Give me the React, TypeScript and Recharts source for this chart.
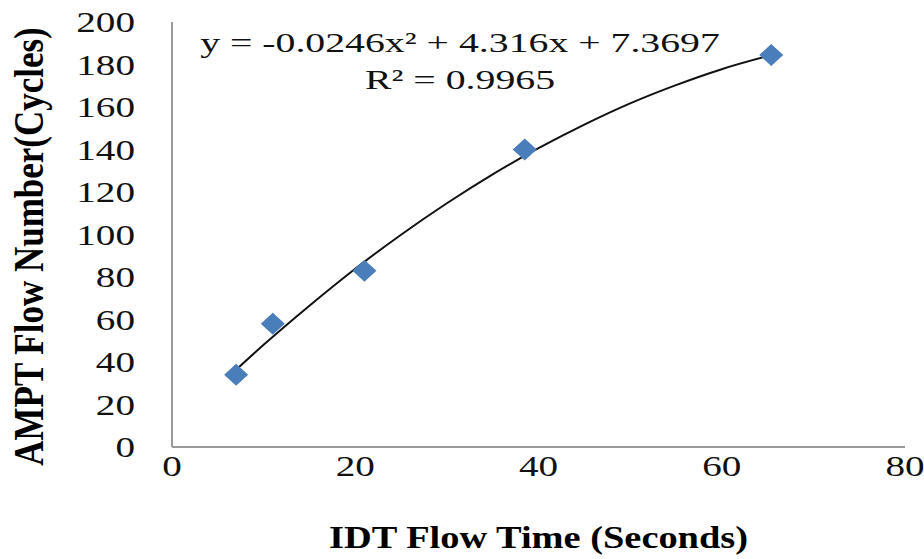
import { ComposedChart, Line, Scatter, XAxis, YAxis } from "recharts";

// measured points (IDT flow time in s vs AMPT flow number)
const flowTime = [7, 11, 21, 38.5, 65.4];
const flowNumber = [34, 58, 83, 140, 184.5];

// poly trendline, values
const trendTime = [7, 10, 15, 20, 25, 30, 35, 40, 45, 50, 55, 60, 65.4];
const trendNumber = [36.4, 48.1, 66.5, 83.9, 99.9, 114.7, 128.3, 140.6, 151.7, 161.7, 170.3, 177.8, 184.4];

const xTicks = [0, 20, 40, 60, 80];
const yTicks = [0, 20, 40, 60, 80, 100, 120, 140, 160, 180, 200];

const equation = "y = -0.0246x² + 4.316x + 7.3697";
const rSquared = "R² = 0.9965";
const xTitle = "IDT Flow Time (Seconds)";
const yTitle = "AMPT Flow Number(Cycles)";

const points = flowTime.map((x, i) => ({ x, y: flowNumber[i] }));
const trend = trendTime.map((x, i) => ({ x, y: trendNumber[i] }));

const serif = "'Liberation Serif', 'Times New Roman', serif";
const STRETCH = 1.35;

function Tick(props: any) {
  const { x, y, payload, side } = props;
  const anchor = side === "left" ? "end" : "middle";
  const dy = side === "left" ? "0.35em" : "0.71em";
  return (
    <text
      transform={`translate(${x},${y}) scale(${STRETCH},1)`}
      textAnchor={anchor}
      dy={dy}
      fontFamily={serif}
      fontSize={29}
      fill="#111"
    >
      {payload.value}
    </text>
  );
}

function Diamond(props: any) {
  const { cx, cy } = props;
  if (cx == null || cy == null) return null;
  return (
    <path
      d={`M${cx},${cy - 11}L${cx + 12},${cy}L${cx},${cy + 11}L${cx - 12},${cy}Z`}
      fill="#4a7ebb"
    />
  );
}

function XTitle(props: any) {
  const { viewBox } = props;
  const cx = viewBox.x + viewBox.width / 2;
  return (
    <text
      transform={`translate(${cx},${viewBox.y + 101}) scale(1.2,1)`}
      textAnchor="middle"
      fontFamily={serif}
      fontWeight="bold"
      fontSize={32}
      fill="#000"
    >
      {xTitle}
    </text>
  );
}

function YTitle(props: any) {
  const { viewBox } = props;
  const cy = viewBox.y + viewBox.height / 2 + 12;
  return (
    <text
      transform={`translate(43,${cy}) scale(1.2,1) rotate(-90)`}
      textAnchor="middle"
      fontFamily={serif}
      fontWeight="bold"
      fontSize={35}
      fill="#000"
    >
      {yTitle}
    </text>
  );
}

export default function App() {
  return (
    <div style={{ position: "absolute", left: 0, top: 0, width: 924, height: 559 }}>
      <ComposedChart
        width={924}
        height={559}
        margin={{ top: 22, right: 19, bottom: 52, left: 72 }}
      >
        <XAxis
          dataKey="x"
          type="number"
          domain={[0, 80]}
          ticks={xTicks}
          height={60}
          axisLine={{ stroke: "#999", strokeWidth: 2 }}
          tickLine={false}
          tickSize={0}
          tickMargin={8}
          tick={<Tick side="bottom" />}
          label={<XTitle />}
        />
        <YAxis
          type="number"
          domain={[0, 200]}
          ticks={yTicks}
          width={100}
          axisLine={{ stroke: "#999", strokeWidth: 2 }}
          tickLine={false}
          tickSize={0}
          tickMargin={37}
          tick={<Tick side="left" />}
          label={<YTitle />}
        />
        <Line
          data={trend}
          dataKey="y"
          type="monotone"
          stroke="#111"
          strokeWidth={2}
          dot={false}
          activeDot={false}
          isAnimationActive={false}
        />
        <Scatter
          data={points}
          dataKey="y"
          shape={<Diamond />}
          isAnimationActive={false}
        />
      </ComposedChart>
      <svg
        width={924}
        height={559}
        style={{ position: "absolute", left: 0, top: 0, pointerEvents: "none" }}
      >
        <text
          transform="translate(460,52) scale(1.42,1)"
          textAnchor="middle"
          fontFamily={serif}
          fontSize={28}
          fill="#111"
        >
          {equation}
        </text>
        <text
          transform="translate(460,89) scale(1.42,1)"
          textAnchor="middle"
          fontFamily={serif}
          fontSize={28}
          fill="#111"
        >
          {rSquared}
        </text>
      </svg>
    </div>
  );
}
